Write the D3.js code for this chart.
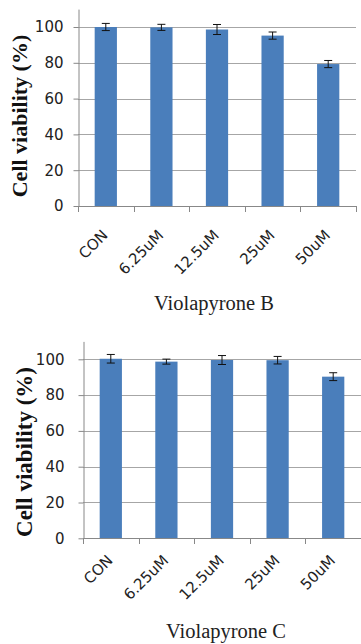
<!DOCTYPE html>
<html>
<head>
<meta charset="utf-8">
<script src="https://cdn.jsdelivr.net/npm/d3@7"></script>
<style>
  body { margin: 0; background: #fff; }
  svg { display: block; }
</style>
</head>
<body>
<div id="chart"></div>
<script>
// concentrations tested
var categories = ["CON", "6.25uM", "12.5uM", "25uM", "50uM"];
var yTicks = [0, 20, 40, 60, 80, 100];

// Violapyrone B
var valuesB = [100, 99.8, 98.6, 95.2, 79.3];
var errorsB = [2.0, 1.7, 2.8, 2.0, 2.0];

// Violapyrone C
var valuesC = [100.3, 98.7, 99.6, 99.5, 90.3];
var errorsC = [2.4, 1.4, 2.5, 2.1, 2.2];

var width = 361, height = 644;

var svg = d3.select("#chart")
  .append("svg")
    .attr("width", width)
    .attr("height", height);

function drawPanel(values, errors, title, p) {
  var x = d3.scaleBand()
    .domain(categories)
    .range([p.left, p.right])
    .paddingInner(0.6)
    .paddingOuter(0.3);

  var y = d3.scaleLinear()
    .domain([0, 110])
    .range([p.bottom, p.top]);

  var g = svg.append("g");

  // horizontal gridlines
  g.append("g")
    .selectAll("line")
    .data(yTicks.filter(function(d) { return d > 0; }))
    .enter()
    .append("line")
      .attr("x1", p.left)
      .attr("x2", p.right)
      .attr("y1", function(d) { return Math.round(y(d)) + 0.5; })
      .attr("y2", function(d) { return Math.round(y(d)) + 0.5; })
      .attr("stroke", "#a6a6a6")
      .attr("stroke-width", 1);

  // bars
  g.append("g")
    .selectAll("rect")
    .data(values)
    .enter()
    .append("rect")
      .attr("x", function(d, i) { return x(categories[i]); })
      .attr("y", function(d) { return y(d); })
      .attr("width", x.bandwidth())
      .attr("height", function(d) { return y(0) - y(d); })
      .attr("fill", "#4a7ebb");

  // error bars
  var eb = g.append("g")
    .selectAll("g")
    .data(values)
    .enter()
    .append("g")
      .attr("stroke", "#111")
      .attr("stroke-width", 1);
  eb.append("line")
    .attr("x1", function(d, i) { return x(categories[i]) + x.bandwidth() / 2; })
    .attr("x2", function(d, i) { return x(categories[i]) + x.bandwidth() / 2; })
    .attr("y1", function(d, i) { return y(d + errors[i]); })
    .attr("y2", function(d, i) { return y(d - errors[i]); });
  eb.append("line")
    .attr("x1", function(d, i) { return x(categories[i]) + x.bandwidth() / 2 - 4; })
    .attr("x2", function(d, i) { return x(categories[i]) + x.bandwidth() / 2 + 4; })
    .attr("y1", function(d, i) { return y(d + errors[i]); })
    .attr("y2", function(d, i) { return y(d + errors[i]); });
  eb.append("line")
    .attr("x1", function(d, i) { return x(categories[i]) + x.bandwidth() / 2 - 4; })
    .attr("x2", function(d, i) { return x(categories[i]) + x.bandwidth() / 2 + 4; })
    .attr("y1", function(d, i) { return y(d - errors[i]); })
    .attr("y2", function(d, i) { return y(d - errors[i]); });

  // y axis
  var yAxis = g.append("g")
    .attr("transform", "translate(" + (Math.round(p.left) + 0.5) + ",0)")
    .call(d3.axisLeft(y).tickValues(yTicks).tickSize(5).tickSizeOuter(0).tickPadding(p.yPad));
  yAxis.select(".domain").attr("stroke", "#888");
  yAxis.selectAll(".tick line").attr("stroke", "#888");
  yAxis.selectAll(".tick text")
    .attr("font-family", "DejaVu Sans, sans-serif")
    .attr("font-size", 15)
    .attr("fill", "#222");

  // x axis: ticks sit between the categories
  var bounds = d3.range(categories.length + 1).map(function(i) {
    return p.left + i * x.step();
  });
  var xAxis = g.append("g");
  xAxis.append("line")
    .attr("x1", p.left)
    .attr("x2", p.right)
    .attr("y1", Math.round(y(0)) + 0.5)
    .attr("y2", Math.round(y(0)) + 0.5)
    .attr("stroke", "#888");
  xAxis.selectAll(".xt")
    .data(bounds)
    .enter()
    .append("line")
      .attr("x1", function(d) { return Math.round(d) + 0.5; })
      .attr("x2", function(d) { return Math.round(d) + 0.5; })
      .attr("y1", Math.round(y(0)))
      .attr("y2", Math.round(y(0)) + 6)
      .attr("stroke", "#888");
  xAxis.selectAll("text")
    .data(categories)
    .enter()
    .append("text")
      .attr("transform", function(d) {
        return "translate(" + (x(d) + x.bandwidth() / 2 + 3) + "," + (y(0) + p.xDrop) + ") rotate(-45)";
      })
      .attr("text-anchor", "end")
      .attr("font-family", "DejaVu Sans, sans-serif")
      .attr("font-size", 15)
      .attr("fill", "#222")
      .text(function(d) { return d; });

  // axis title
  g.append("text")
    .attr("transform", "translate(" + p.labelX + "," + p.labelY + ") rotate(-90)")
    .attr("text-anchor", "middle")
    .attr("font-family", "Liberation Serif, Times New Roman, serif")
    .attr("font-weight", "bold")
    .attr("font-size", p.labelSize)
    .attr("fill", "#111")
    .text("Cell viability (%)");

  // compound name
  g.append("text")
    .attr("x", p.titleX)
    .attr("y", p.titleY)
    .attr("text-anchor", "middle")
    .attr("font-family", "Liberation Serif, Times New Roman, serif")
    .attr("font-size", 20.5)
    .attr("fill", "#222")
    .text(title);
}

drawPanel(valuesB, errorsB, "Violapyrone B", {
  left: 78, right: 356, top: 9.1, bottom: 206,
  yPad: 10, xDrop: 30,
  labelX: 27, labelY: 116, labelSize: 22,
  titleX: 214, titleY: 310
});

drawPanel(valuesC, errorsC, "Violapyrone C", {
  left: 83, right: 361, top: 341.4, bottom: 538.3,
  yPad: 14, xDrop: 23,
  labelX: 32, labelY: 452, labelSize: 23,
  titleX: 226, titleY: 638
});
</script>
</body>
</html>
